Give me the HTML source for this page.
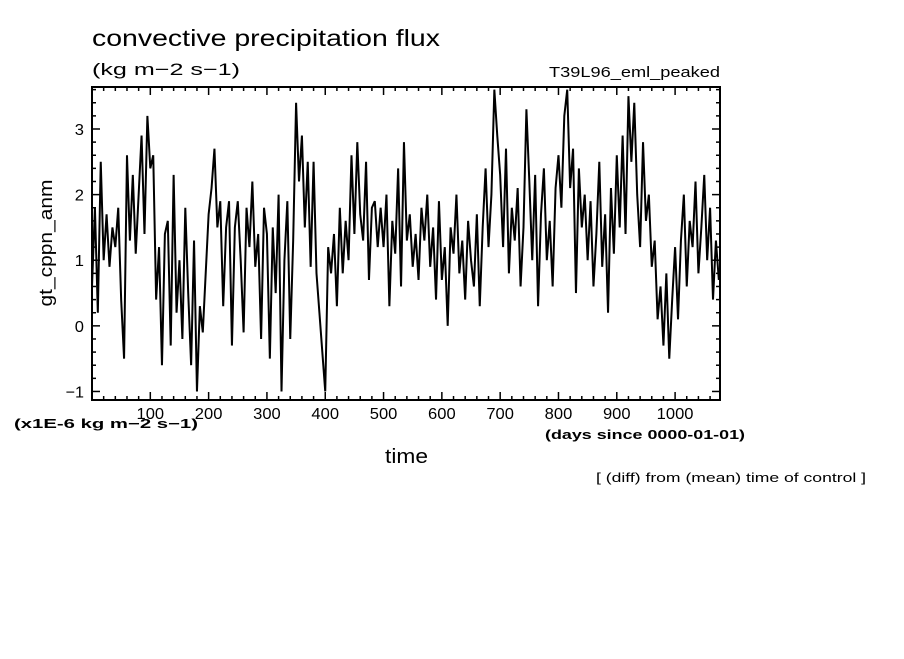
<!DOCTYPE html>
<html><head><meta charset="utf-8"><style>
body{margin:0;background:#fff;width:904px;height:654px;overflow:hidden}
svg{font-family:"Liberation Sans",sans-serif}
</style></head><body>
<svg id="chart" width="904" height="654" viewBox="0 0 904 654">
<rect width="904" height="654" fill="#fff"/>
<text x="92" y="46" font-size="23" textLength="348" lengthAdjust="spacingAndGlyphs">convective precipitation flux</text>
<text x="92" y="75" font-size="17" textLength="148" lengthAdjust="spacingAndGlyphs">(kg m−2 s−1)</text>
<text x="549" y="77" font-size="15" textLength="171" lengthAdjust="spacingAndGlyphs">T39L96_eml_peaked</text>
<text transform="translate(52,243) rotate(-90)" font-size="18" text-anchor="middle" textLength="127" lengthAdjust="spacingAndGlyphs">gt_cppn_anm</text>
<text x="14" y="428" font-size="13" font-weight="bold" textLength="184" lengthAdjust="spacingAndGlyphs">(x1E-6 kg m−2 s−1)</text>
<text x="545" y="439" font-size="13" font-weight="bold" textLength="200" lengthAdjust="spacingAndGlyphs">(days since 0000-01-01)</text>
<text x="385" y="463" font-size="20" textLength="43" lengthAdjust="spacingAndGlyphs">time</text>
<text x="596" y="482" font-size="13" textLength="270" lengthAdjust="spacingAndGlyphs">[ (diff) from (mean) time of control ]</text>
<g id="axes"></g>
<path id="series" fill="none" stroke="#000" stroke-width="2" stroke-linejoin="miter"/>
<rect x="92" y="87" width="628" height="313" fill="none" stroke="#000" stroke-width="2"/>
</svg>
<script>
const xStep = 5;
const values = [
0.6,1.8,0.2,2.5,1.0,1.7,0.9,1.5,1.2,1.8,
0.4,-0.5,2.6,1.3,2.3,1.1,2.0,2.9,1.4,3.2,
2.4,2.6,0.4,1.2,-0.6,1.4,1.6,-0.3,2.3,0.2,
1.0,-0.2,1.8,0.5,-0.6,1.3,-1.0,0.3,-0.1,0.8,
1.7,2.1,2.7,1.5,1.9,0.3,1.5,1.9,-0.3,1.5,
1.9,1.0,-0.1,1.8,1.2,2.2,0.9,1.4,-0.2,1.8,
1.4,-0.5,1.5,0.5,2.0,-1.0,1.0,1.9,-0.2,1.3,
3.4,2.2,2.9,1.5,2.5,0.9,2.5,0.8,0.2,-0.4,
-1.0,1.2,0.8,1.4,0.3,1.8,0.8,1.6,1.0,2.6,
1.4,2.8,1.7,1.3,2.5,0.7,1.8,1.9,1.2,1.8,
1.2,2.0,0.3,1.6,1.1,2.4,0.6,2.8,1.3,1.7,
0.9,1.4,0.7,1.8,1.3,2.0,0.9,1.5,0.4,1.9,
0.7,1.2,0.0,1.5,1.1,2.0,0.8,1.3,0.4,1.6,
1.0,0.6,1.7,0.3,1.5,2.4,1.2,2.0,3.6,2.9,
2.3,1.2,2.7,0.8,1.8,1.3,2.1,0.6,1.5,3.3,
2.2,1.0,2.3,0.3,1.7,2.4,1.0,1.6,0.6,2.1,
2.6,1.8,3.2,3.6,2.1,2.7,0.5,2.4,1.5,2.0,
1.0,1.9,0.6,1.4,2.5,0.9,1.7,0.2,2.1,1.1,
2.6,1.5,2.9,1.4,3.5,2.5,3.4,2.0,1.2,2.8,
1.6,2.0,0.9,1.3,0.1,0.6,-0.3,0.8,-0.5,0.4,
1.2,0.1,1.3,2.0,0.6,1.6,1.2,2.2,0.8,1.5,
2.3,1.0,1.8,0.4,1.3,0.7];
const xTicks = [100,200,300,400,500,600,700,800,900,1000];
const yTicks = [-1,0,1,2,3];

const X0=92,X1=720,Y0=87,Y1=400, XMIN=0, XMAX=1077, YMIN=-1.13, YMAX=3.64;
const sx = d => X0 + (d-XMIN)/(XMAX-XMIN)*(X1-X0);
const sy = v => Y1 - (v-YMIN)/(YMAX-YMIN)*(Y1-Y0);
const NS="http://www.w3.org/2000/svg";
const axes=document.getElementById('axes');
function line(x1,y1,x2,y2,name){const l=document.createElementNS(NS,'line');l.setAttribute('x1',x1);l.setAttribute('y1',y1);l.setAttribute('x2',x2);l.setAttribute('y2',y2);l.setAttribute('stroke','#000');l.setAttribute('stroke-width','1.5');


axes.appendChild(l);}
function text(x,y,s,anchor,name){const t=document.createElementNS(NS,'text');t.setAttribute('x',x);t.setAttribute('y',y);t.setAttribute('font-size','16');t.setAttribute('text-anchor',anchor);t.textContent=s;
t.setAttribute('textLength',String(s.length*9.2));
t.setAttribute('lengthAdjust','spacingAndGlyphs');


axes.appendChild(t);}
for(let d=20; d<XMAX; d+=20){const x=sx(d);const major=d%100===0;const L=major?8:4;
line(x,Y1,x,Y1-L,'x-tick');line(x,Y0,x,Y0+L,'x-tick-top');}
for(let v=-1; v<=3.61; v+=0.2){const vv=Math.round(v*10)/10;const y=sy(vv);const major=Math.abs(vv-Math.round(vv))<1e-6;const L=major?8:4;
line(X0,y,X0+L,y,'y-tick');line(X1,y,X1-L,y,'y-tick-right');}
xTicks.forEach(d=>text(sx(d),Y1+19,String(d),'middle','x-tick-label'));
yTicks.forEach(v=>text(X0-8,sy(v)+6,String(v).replace('-','−'),'end','y-tick-label'));
let p='';values.forEach((v,i)=>{p+=(i?'L':'M')+sx(i*xStep).toFixed(2)+','+sy(v).toFixed(2);});
document.getElementById('series').setAttribute('d',p);
</script>
</body></html>
